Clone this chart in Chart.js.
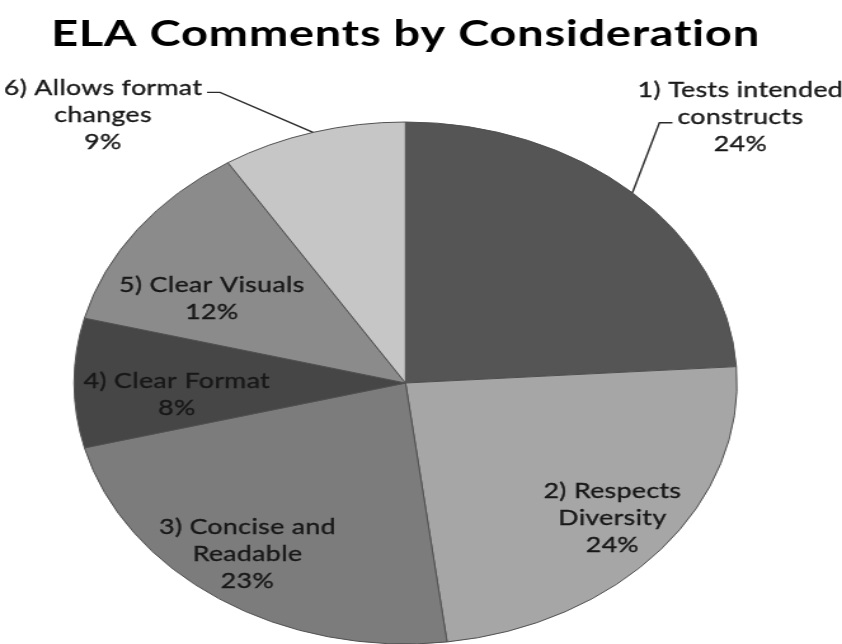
<!DOCTYPE html>
<html>
<head>
<meta charset="utf-8">
<script src="https://cdn.jsdelivr.net/npm/chart.js@4.4.1/dist/chart.umd.min.js"></script>
<style>
  html, body { margin: 0; padding: 0; background: #fff; overflow: hidden; }
  /* the original chart is a horizontally stretched image, so the canvas is stretched too */
  #wrap { position: absolute; left: 0; top: 0; width: 663px; height: 644px;
          transform: scaleX(1.27); transform-origin: 0 0; }
</style>
</head>
<body>
<div id="wrap"><canvas id="pieChart"></canvas></div>
<script>
const labels = [
    ["1) Tests intended", "constructs"],
    ["2) Respects", "Diversity"],
    ["3) Concise and", "Readable"],
    ["4) Clear Format"],
    ["5) Clear Visuals"],
    ["6) Allows format", "changes"],
];
const percents = [24, 24, 23, 8, 12, 9];
const sliceColors = ["#555555", "#a6a6a6", "#7c7c7c", "#464646", "#8b8b8b", "#c6c6c6"];

const STRETCH = 1.27;
const FONT = "Lato, 'DejaVu Sans', sans-serif";

// where each label goes: fraction of radius (+ small nudge) for inside labels,
// or leader/text offsets (screen px) from the rim for outside ones
const labelPlacement = [
    { outside: true, elbow: [27, -70], tick: [40, -70], text: [108, -76] },
    { r: 0.81, shift: [0, 0] },
    { r: 0.80, shift: [-9, -1] },
    { r: 0.69, shift: [0, 12] },
    { r: 0.67, shift: [-14, 19] },
    { outside: true, elbow: [-93, -40], tick: [-106, -40], text: [-210, -17] },
];

// letter spacing also stops Lato from joining "ti" in the title
const textSpacing = {
    id: "textSpacing",
    beforeDraw(chart) {
        chart.ctx.letterSpacing = "0.6px";
    },
};

const sliceLabels = {
    id: "sliceLabels",
    afterDatasetsDraw(chart) {
        const ctx = chart.ctx;
        const meta = chart.getDatasetMeta(0);
        const lineH = 27;
        meta.data.forEach((arc, i) => {
            const mid = (arc.startAngle + arc.endAngle) / 2;
            const lines = labels[i].concat([percents[i] + "%"]);
            const place = labelPlacement[i];
            let cx, cy;
            ctx.save();
            if (place.outside) {
                const ex = arc.x + Math.cos(mid) * arc.outerRadius;
                const ey = arc.y + Math.sin(mid) * arc.outerRadius;
                ctx.strokeStyle = "#2a2a2a";
                ctx.lineWidth = 1.4;
                ctx.beginPath();
                ctx.moveTo(ex, ey);
                ctx.lineTo(ex + place.elbow[0] / STRETCH, ey + place.elbow[1]);
                ctx.lineTo(ex + place.tick[0] / STRETCH, ey + place.tick[1]);
                ctx.stroke();
                cx = ex + place.text[0] / STRETCH;
                cy = ey + place.text[1];
            } else {
                cx = arc.x + Math.cos(mid) * arc.outerRadius * place.r + place.shift[0] / STRETCH;
                cy = arc.y + Math.sin(mid) * arc.outerRadius * place.r + place.shift[1];
            }
            ctx.letterSpacing = "0.3px";
            ctx.fillStyle = "#181818";
            ctx.strokeStyle = "#181818";
            ctx.lineWidth = 0.35;
            ctx.font = "21px " + FONT;
            ctx.textAlign = "center";
            ctx.textBaseline = "middle";
            const startY = cy - (lines.length - 1) * lineH / 2;
            lines.forEach((t, k) => {
                ctx.fillText(t, cx, startY + k * lineH);
                ctx.strokeText(t, cx, startY + k * lineH);
            });
            ctx.restore();
        });
    },
};

const canvas = document.getElementById("pieChart");
new Chart(canvas.getContext("2d"), {
    type: "pie",
    data: {
        labels: labels.map(l => l.join(" ")),
        datasets: [
            {
                data: percents,
                backgroundColor: sliceColors,
                borderColor: "#505050",
                borderWidth: 1,
            },
        ],
    },
    options: {
        responsive: true,
        maintainAspectRatio: false,
        animation: false,
        radius: 261,
        layout: {
            padding: { left: 40, right: 64.4, top: 0, bottom: 0 },
        },
        plugins: {
            legend: { display: false },
            tooltip: { enabled: false },
            title: {
                display: true,
                text: "ELA Comments by Consideration",
                color: "#000",
                font: { family: FONT, size: 37, weight: "bold", lineHeight: 1.2 },
                padding: { top: 12, bottom: 65.6 },
            },
        },
    },
    plugins: [textSpacing, sliceLabels],
});
</script>
</body>
</html>
